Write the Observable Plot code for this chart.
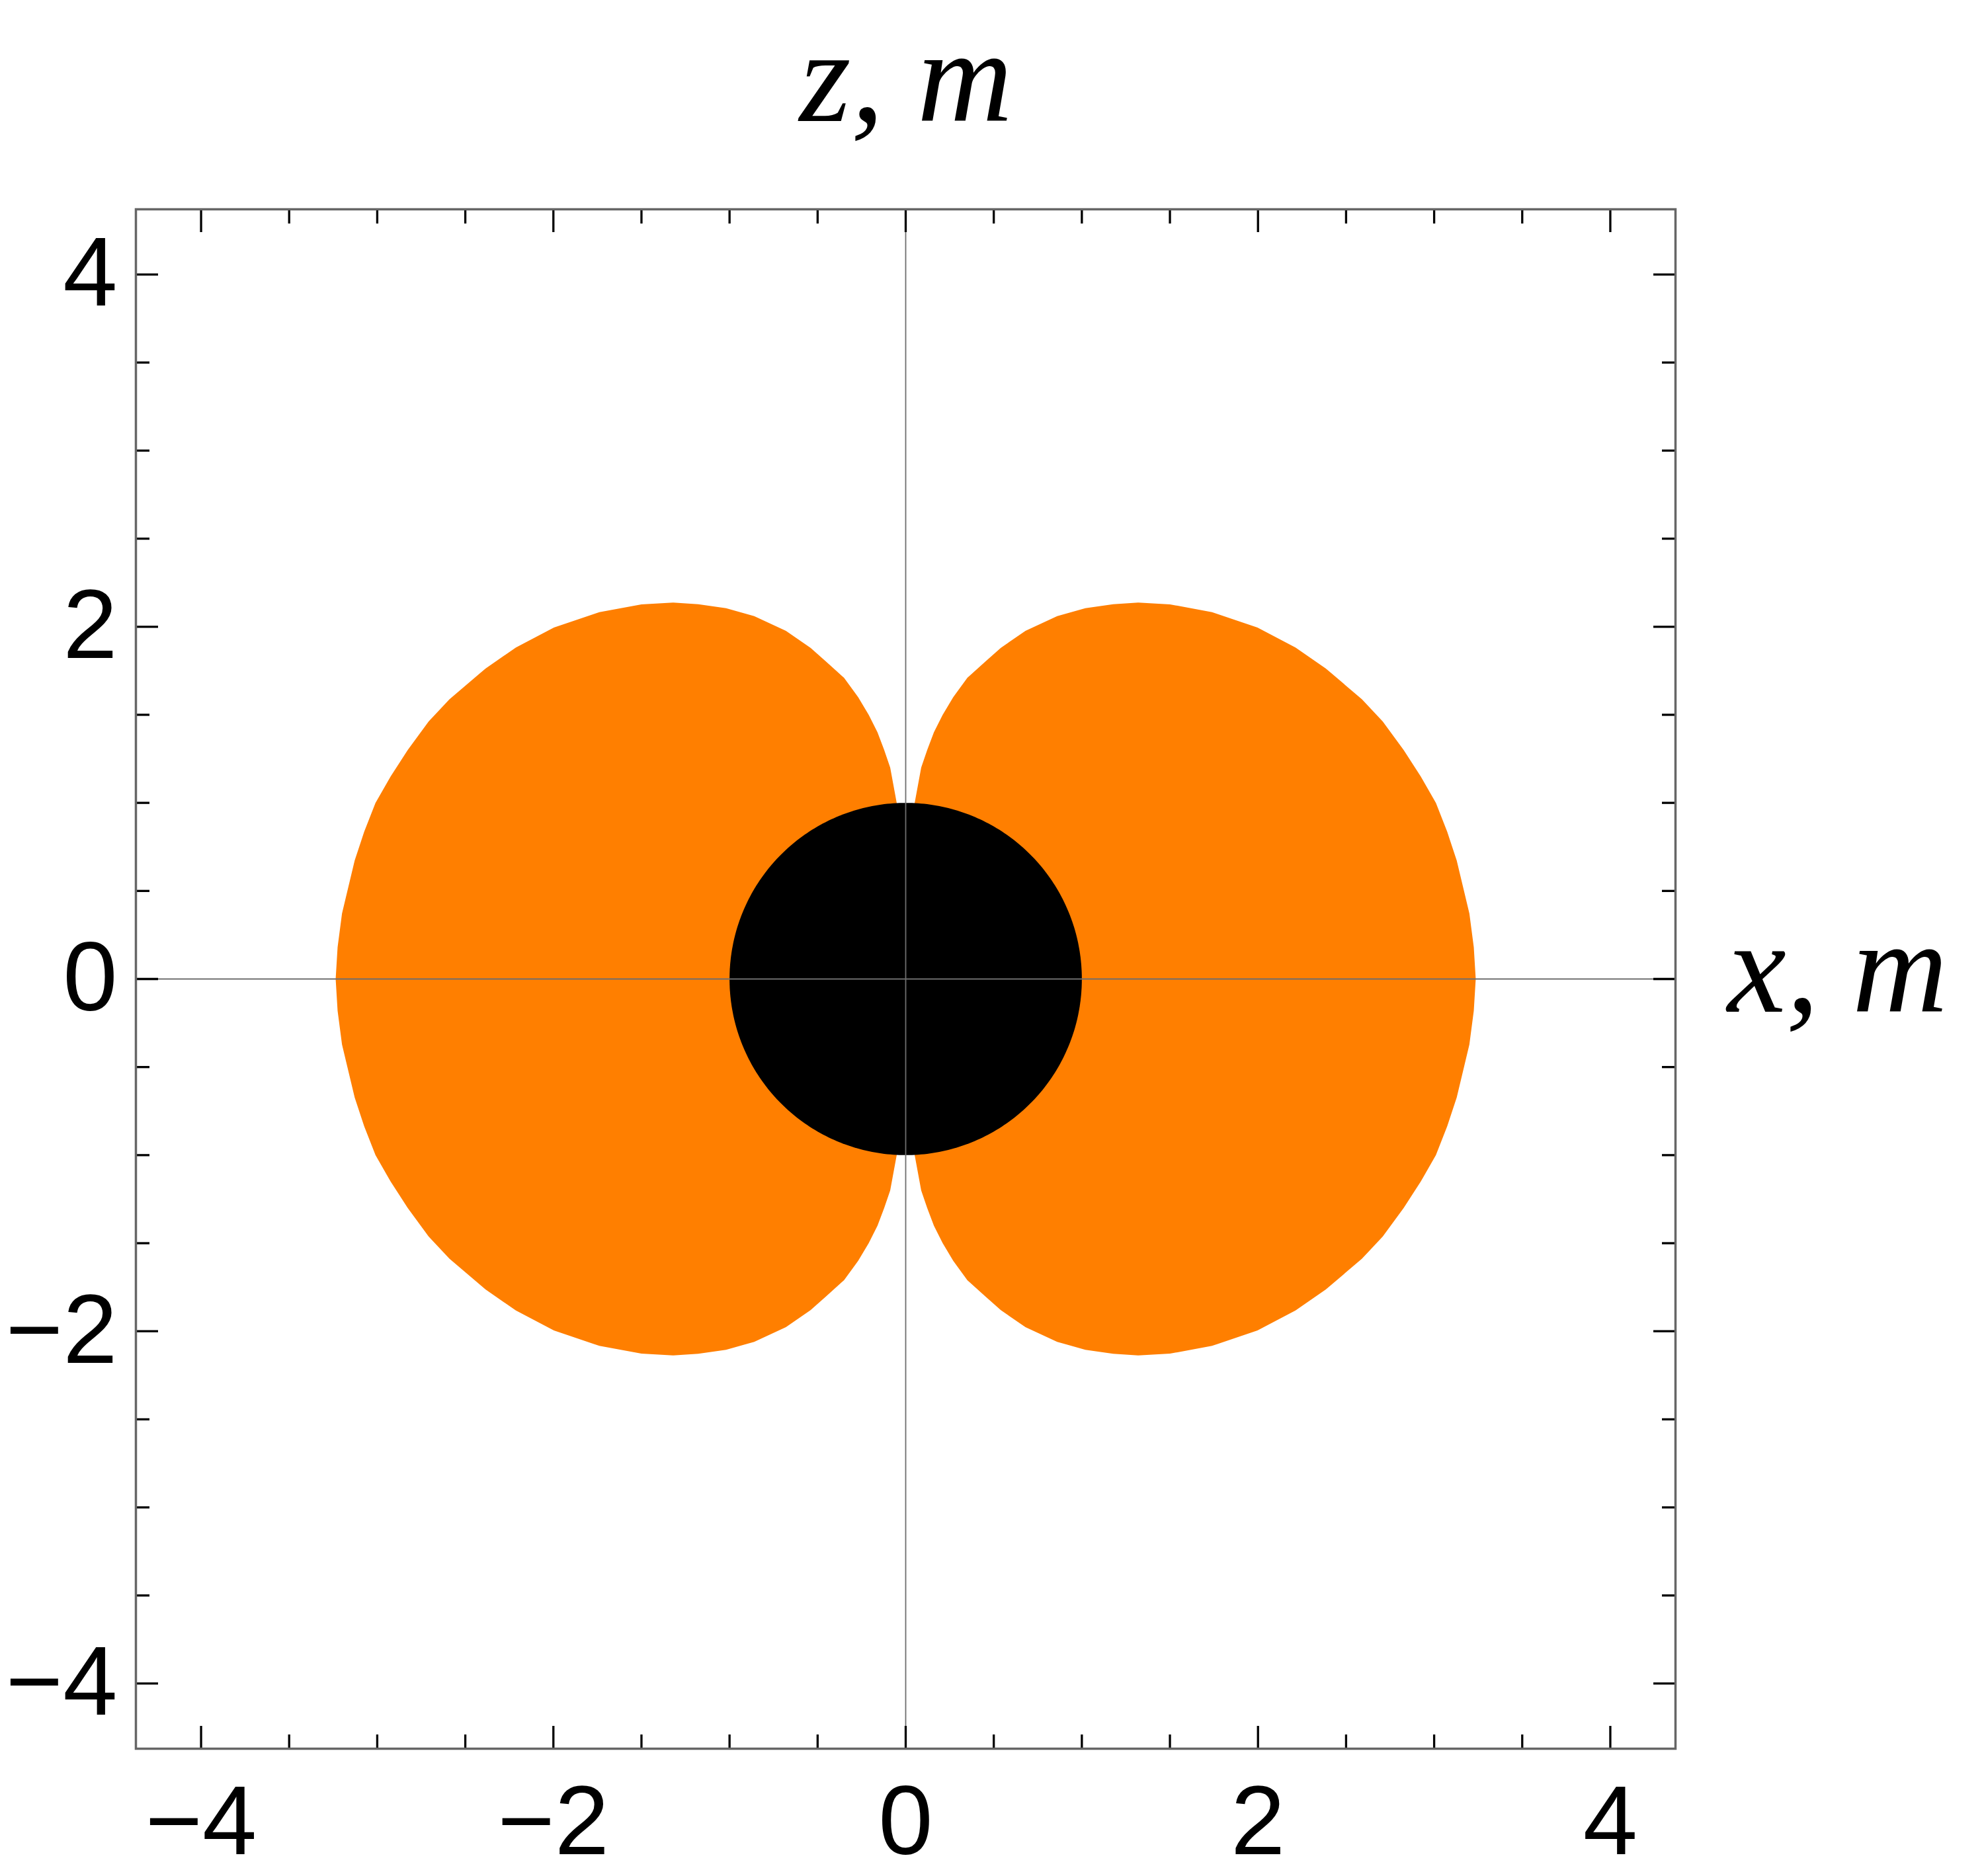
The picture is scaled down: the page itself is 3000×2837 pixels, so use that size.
<!DOCTYPE html>
<html>
<head>
<meta charset="utf-8">
<script src="https://cdn.jsdelivr.net/npm/d3@7"></script>
<script src="https://cdn.jsdelivr.net/npm/@observablehq/plot@0.6"></script>
<style>
  html, body { margin: 0; padding: 0; background: #ffffff; }
  #chart { width: 3000px; height: 2837px; }
</style>
</head>
<body>
<div id="chart"></div>
<script>
// ---- data ----
// One quadrant (x ≥ 0, z ≥ 0) of the right orange lobe boundary:
// from the contact with the black disk, up the inner edge, over the crest, down the outer edge to the equator.
const lobeX = [0.051, 0.088, 0.122, 0.16, 0.21, 0.27, 0.35, 0.45, 0.54, 0.68, 0.86, 1.02, 1.178, 1.32, 1.50, 1.739, 1.997, 2.213, 2.385, 2.59, 2.708, 2.827, 2.924, 3.01, 3.074, 3.128, 3.17, 3.20, 3.225, 3.236];
const lobeZ = [1.0, 1.2, 1.3, 1.4, 1.5, 1.6, 1.71, 1.80, 1.88, 1.977, 2.06, 2.105, 2.128, 2.137, 2.127, 2.083, 1.995, 1.882, 1.763, 1.588, 1.462, 1.30, 1.15, 1.0, 0.836, 0.673, 0.497, 0.372, 0.18, 0.0];

const diskRadius = 1;               // black disk radius (m)
const domainX = [-4.37, 4.37];
const domainZ = [-4.37, 4.37];
const majorTicks = [-4, -2, 0, 2, 4];
const minorTicks = [-3.5, -3, -2.5, -1.5, -1, -0.5, 0.5, 1, 1.5, 2.5, 3, 3.5];
const titleText = "z, m";
const xLabelText = "x, m";
const lobeColor = "#ff7f00";

// ---- build shapes from the data ----
const quarter = lobeX.map((x, i) => ({x, z: lobeZ[i]}));
const rightLobe = [...quarter, ...quarter.slice(0, -1).reverse().map(p => ({x: p.x, z: -p.z}))];
const leftLobe = rightLobe.map(p => ({x: -p.x, z: p.z}));
const disk = d3.range(0, 361, 1).map(a => ({
  x: diskRadius * Math.cos(a * Math.PI / 180),
  z: diskRadius * Math.sin(a * Math.PI / 180)
}));

const fmt = d => d < 0 ? "\u2212" + Math.abs(d) : String(d);
const tickStyle = {stroke: "black", strokeWidth: 3.3};

const chart = Plot.plot({
  width: 3000,
  height: 2837,
  marginLeft: 205,
  marginRight: 467,
  marginTop: 316,
  marginBottom: 193,
  style: {fontFamily: "'Liberation Sans', Arial, sans-serif", background: "#ffffff", color: "black"},
  x: {domain: domainX},
  y: {domain: domainZ},
  marks: [
    Plot.line(rightLobe, {x: "x", y: "z", fill: lobeColor, stroke: "none"}),
    Plot.line(leftLobe, {x: "x", y: "z", fill: lobeColor, stroke: "none"}),
    Plot.line(disk, {x: "x", y: "z", fill: "black", stroke: "none"}),
    Plot.ruleX([0], {stroke: "#6e6e6e", strokeWidth: 1.8}),
    Plot.ruleY([0], {stroke: "#6e6e6e", strokeWidth: 1.8}),
    // bottom axis
    Plot.axisX({anchor: "bottom", ticks: majorTicks, tickSize: -34, tickPadding: 88, fontSize: 148, tickFormat: fmt, label: null, ...tickStyle}),
    Plot.axisX({anchor: "bottom", ticks: minorTicks, tickSize: -21, tickFormat: () => "", label: null, ...tickStyle}),
    // top axis (ticks only)
    Plot.axisX({anchor: "top", ticks: majorTicks, tickSize: -34, tickFormat: () => "", label: null, ...tickStyle}),
    Plot.axisX({anchor: "top", ticks: minorTicks, tickSize: -21, tickFormat: () => "", label: null, ...tickStyle}),
    // left axis
    Plot.axisY({anchor: "left", ticks: majorTicks, tickSize: -34, tickPadding: 62, fontSize: 148, tickFormat: fmt, label: null, ...tickStyle}),
    Plot.axisY({anchor: "left", ticks: minorTicks, tickSize: -21, tickFormat: () => "", label: null, ...tickStyle}),
    // right axis (ticks only)
    Plot.axisY({anchor: "right", ticks: majorTicks, tickSize: -34, tickFormat: () => "", label: null, ...tickStyle}),
    Plot.axisY({anchor: "right", ticks: minorTicks, tickSize: -21, tickFormat: () => "", label: null, ...tickStyle}),
    Plot.frame({stroke: "#666666", strokeWidth: 3.5})
  ]
});

// axis titles placed in the margins
const svg = d3.select(chart);
const labelFont = "'Liberation Serif', 'Times New Roman', serif";
svg.append("text")
  .attr("x", 1370).attr("y", 183)
  .attr("text-anchor", "middle")
  .attr("font-family", labelFont).attr("font-style", "italic")
  .attr("font-size", 200).attr("fill", "black")
  .text(titleText);
svg.append("text")
  .attr("x", 2612).attr("y", 1530)
  .attr("text-anchor", "start")
  .attr("font-family", labelFont).attr("font-style", "italic")
  .attr("font-size", 200).attr("fill", "black")
  .text(xLabelText);

document.getElementById("chart").appendChild(chart);
</script>
</body>
</html>
